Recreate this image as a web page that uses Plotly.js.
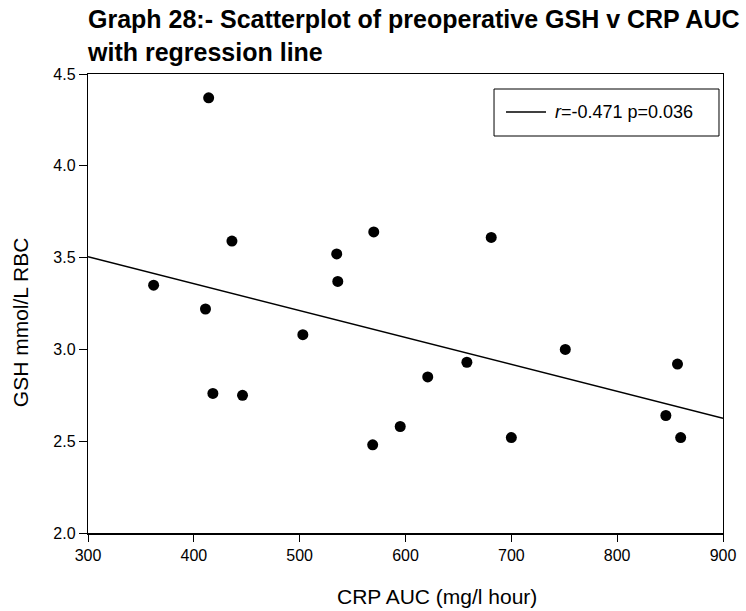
<!DOCTYPE html>
<html>
<head>
<meta charset="utf-8">
<script src="https://cdn.plot.ly/plotly-3.0.1.min.js"></script>
<style>html,body{margin:0;padding:0;background:#fff;}#chart{width:746px;height:611px;}</style>
</head>
<body>
<div id="chart"></div>
<script>
// CRP AUC (mg/l hour)
var crpAUC = [362, 411, 414, 418, 436, 446, 503, 535, 536, 570, 569, 595, 621, 658, 681, 700, 751, 846, 857, 860];
// GSH mmol/L RBC
var gsh = [3.35, 3.22, 4.37, 2.76, 3.59, 2.75, 3.08, 3.52, 3.37, 3.64, 2.48, 2.58, 2.85, 2.93, 3.61, 2.52, 3.00, 2.64, 2.92, 2.52];
// regression line endpoints
var regX = [300, 900];
var regY = [3.505, 2.625];
var xTicks = [300, 400, 500, 600, 700, 800, 900];
var yTicks = [2.0, 2.5, 3.0, 3.5, 4.0, 4.5];
var titleText = 'Graph 28:- Scatterplot of preoperative GSH v CRP AUC<br>with regression line';
var xTitle = 'CRP AUC (mg/l hour)';
var yTitle = 'GSH mmol/L RBC';
var legendText = '<i>r</i>=-0.471 p=0.036';

var font = 'Liberation Sans, Arial, sans-serif';

var traces = [
  {
    x: crpAUC, y: gsh, type: 'scatter', mode: 'markers',
    marker: {color: '#000', size: 11},
    showlegend: false, cliponaxis: false
  },
  {
    x: regX, y: regY, type: 'scatter', mode: 'lines',
    line: {color: '#000', width: 1.5},
    name: legendText, showlegend: false
  }
];

var layout = {
  width: 746, height: 611,
  margin: {l: 88, r: 23, t: 74, b: 78},
  paper_bgcolor: '#fff', plot_bgcolor: '#fff',
  font: {family: font, color: '#000'},
  showlegend: false,
  annotations: [
    {text: '<b>' + titleText + '</b>', xref: 'paper', yref: 'paper', x: 0, y: 1.084,
     xanchor: 'left', yanchor: 'middle', align: 'left', showarrow: false, xshift: -3,
     font: {family: font, size: 25, color: '#000'}},
    {text: xTitle, xref: 'paper', yref: 'paper', x: 0.55, y: -0.139,
     xanchor: 'center', yanchor: 'middle', showarrow: false,
     font: {family: font, size: 21, color: '#000'}},
    {text: yTitle, xref: 'paper', yref: 'paper', x: -0.105, y: 0.46,
     xanchor: 'center', yanchor: 'middle', showarrow: false, textangle: -90,
     font: {family: font, size: 21, color: '#000'}},
    {text: legendText, xref: 'paper', yref: 'paper', x: 0.7323, y: 0.9172,
     xanchor: 'left', yanchor: 'middle', showarrow: false,
     font: {family: font, size: 18, color: '#000'}}
  ],
  shapes: [
    {type: 'rect', xref: 'paper', yref: 'paper', x0: 0.6394, x1: 0.9937, y0: 0.8649, y1: 0.9673,
     line: {color: '#000', width: 1}, fillcolor: '#fff', layer: 'above'},
    {type: 'line', xref: 'paper', yref: 'paper', x0: 0.6583, x1: 0.7213, y0: 0.9172, y1: 0.9172,
     line: {color: '#000', width: 1.5}, layer: 'above'}
  ],
  xaxis: {
    range: [300, 900], tickmode: 'array', tickvals: xTicks,
    ticks: 'outside', ticklen: 7, tickwidth: 1, tickcolor: '#000',
    showline: true, linecolor: '#000', linewidth: 1.5, mirror: true,
    showgrid: false, zeroline: false,
    tickfont: {family: font, size: 16, color: '#000'}
  },
  yaxis: {
    range: [2.0, 4.5], tickmode: 'array', tickvals: yTicks,
    tickformat: '.1f',
    ticks: 'outside', ticklen: 8, tickwidth: 1, tickcolor: '#000',
    showline: true, linecolor: '#000', linewidth: 1.2, mirror: true,
    showgrid: false, zeroline: false,
    tickfont: {family: font, size: 16, color: '#000'}
  }
};

Plotly.newPlot('chart', traces, layout, {displayModeBar: false, staticPlot: true});
</script>
</body>
</html>
